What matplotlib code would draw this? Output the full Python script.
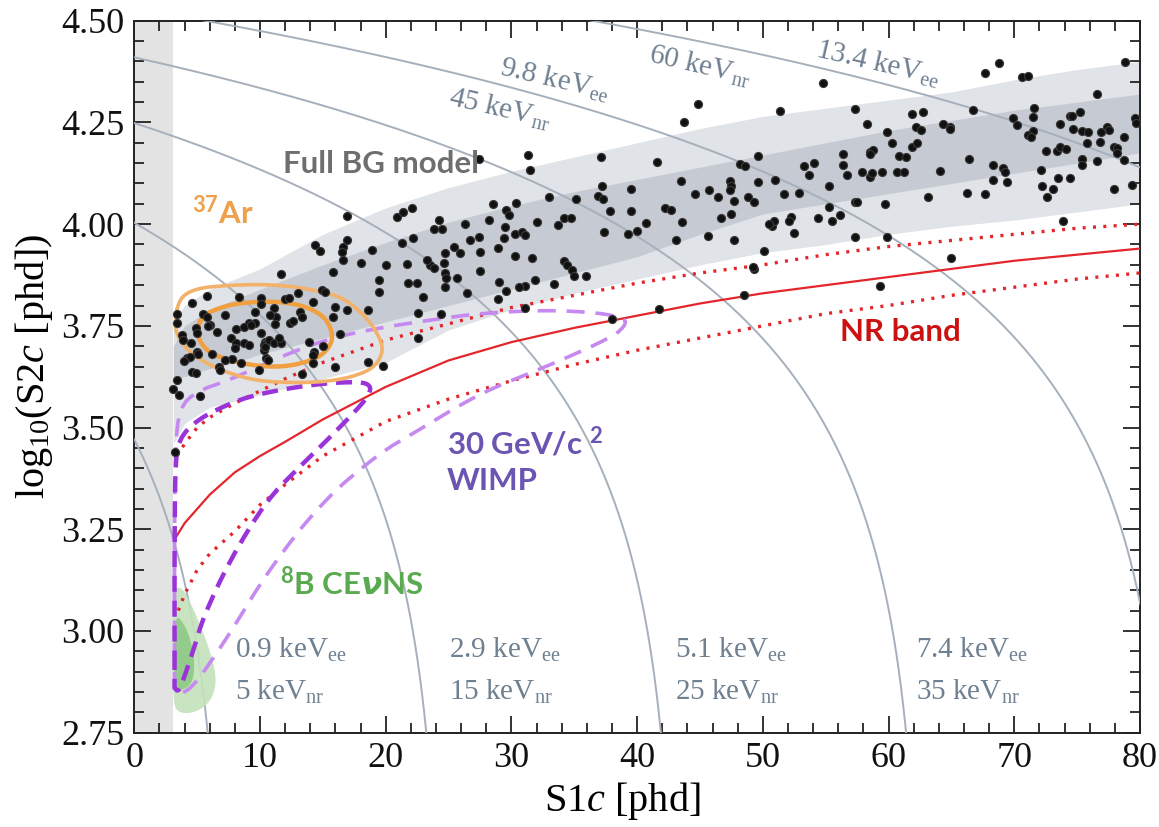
import numpy as np
import matplotlib
matplotlib.use("Agg")
import matplotlib.pyplot as plt
from matplotlib.ticker import MultipleLocator, FormatStrFormatter

plt.rcParams['font.family'] = ['Liberation Serif', 'DejaVu Serif']
plt.rcParams['mathtext.fontset'] = 'custom'
plt.rcParams['mathtext.rm'] = 'Liberation Serif'
plt.rcParams['mathtext.it'] = 'Liberation Serif:italic'
plt.rcParams['mathtext.bf'] = 'Lato:bold'
plt.rcParams['mathtext.sf'] = 'DejaVu Sans:italic:bold'

# ---------------- data ----------------
# energy contours (keV_ee) and detector gains used to draw them
contour_E_ee = [0.85, 2.9, 5.1, 7.4, 9.77, 13.4]
W_keV = 0.0137
g1 = 0.1162
g2 = 47.6

# Full background model bands
band_x   = [3.1, 4, 6, 8, 10, 15, 20, 25, 30, 35, 40, 45, 50, 55, 60, 65, 70, 75, 80]
outer_hi = [3.76, 3.80, 3.84, 3.865, 3.89, 3.975, 4.04, 4.09, 4.13, 4.165, 4.20, 4.235, 4.265, 4.285, 4.305, 4.325, 4.355, 4.38, 4.40]
outer_lo = [3.46, 3.51, 3.55, 3.565, 3.58, 3.62, 3.66, 3.74, 3.79, 3.83, 3.865, 3.90, 3.93, 3.95, 3.975, 3.995, 4.01, 4.03, 4.05]
inner_hi = [3.70, 3.75, 3.79, 3.815, 3.84, 3.90, 3.955, 4.005, 4.045, 4.08, 4.11, 4.14, 4.17, 4.20, 4.23, 4.255, 4.28, 4.30, 4.32]
inner_lo = [3.62, 3.625, 3.645, 3.66, 3.68, 3.72, 3.76, 3.80, 3.84, 3.88, 3.92, 3.975, 4.025, 4.05, 4.075, 4.10, 4.125, 4.15, 4.175]

# NR band (median and 10/90 %)
nr_x   = [3.3, 4, 5, 6, 8, 10, 12, 15, 20, 25, 30, 35, 40, 45, 50, 55, 60, 65, 70, 75, 80]
nr_med = [3.23, 3.265, 3.30, 3.335, 3.39, 3.43, 3.465, 3.52, 3.60, 3.665, 3.71, 3.745, 3.775, 3.805, 3.83, 3.85, 3.87, 3.89, 3.91, 3.925, 3.94]
nr_up_x = [3.4, 4, 5, 6, 8, 10, 12, 15, 20, 25, 30, 35, 40, 45, 50, 55, 60, 65, 70, 75, 80]
nr_up   = [3.43, 3.46, 3.50, 3.525, 3.56, 3.59, 3.62, 3.66, 3.715, 3.755, 3.795, 3.825, 3.855, 3.88, 3.90, 3.925, 3.945, 3.96, 3.975, 3.99, 4.0]
nr_lo_x = [3.5, 4, 5, 6, 8, 10, 12, 15, 20, 25, 30, 35, 40, 45, 50, 55, 60, 65, 70, 75, 80]
nr_lo   = [3.05, 3.09, 3.15, 3.19, 3.245, 3.31, 3.36, 3.43, 3.515, 3.57, 3.615, 3.655, 3.69, 3.72, 3.75, 3.78, 3.80, 3.825, 3.845, 3.865, 3.88]

# 30 GeV WIMP contours
wimp_in_x = [3.2, 3.2, 3.2, 3.25, 3.5, 5.0, 8.0, 10.3, 13.0, 15.6, 18.0, 18.7, 18.8, 18.2, 15.6, 12.9, 10.5, 7.6, 5.5, 4.7, 3.9, 3.5, 3.2]
wimp_in_y = [2.86, 3.0, 3.2, 3.40, 3.47, 3.52, 3.565, 3.585, 3.60, 3.61, 3.612, 3.605, 3.59, 3.56, 3.477, 3.396, 3.32, 3.174, 3.035, 2.953, 2.88, 2.85, 2.86]
wimp_out_x = [3.2, 3.2, 3.25, 3.6, 5.0, 7.6, 11.6, 15.6, 19.5, 23.5, 27.5, 32.8, 37.0, 38.8, 39.2, 38.1, 32.8, 27.5, 22.2, 19.5, 15.0, 10.8, 7.6, 5.8, 5.0, 4.3, 3.6, 3.2]
wimp_out_y = [2.85, 3.2, 3.45, 3.55, 3.59, 3.617, 3.674, 3.72, 3.745, 3.764, 3.781, 3.789, 3.782, 3.77, 3.756, 3.723, 3.65, 3.585, 3.486, 3.437, 3.32, 3.155, 2.994, 2.912, 2.878, 2.855, 2.845, 2.85]

# 37Ar contours
ar_out_x = [3.24, 3.6, 5.0, 7.6, 10.3, 12.9, 15.5, 16.9, 18.5, 19.5, 19.8, 19.3, 18.2, 16.0, 12.9, 8.9, 5.0, 3.37]
ar_out_y = [3.764, 3.82, 3.843, 3.85, 3.852, 3.846, 3.83, 3.813, 3.77, 3.723, 3.69, 3.655, 3.633, 3.615, 3.609, 3.617, 3.666, 3.723]
ar_in_x = [5.0, 5.5, 6.3, 8.0, 10.3, 12.0, 13.7, 15.0, 15.6, 15.8, 15.2, 14.2, 12.5, 10.8, 9.0, 7.6, 6.2, 5.5, 5.1]
ar_in_y = [3.748, 3.775, 3.789, 3.805, 3.81, 3.808, 3.797, 3.775, 3.748, 3.715, 3.685, 3.666, 3.652, 3.649, 3.655, 3.666, 3.68, 3.699, 3.72]

# 8B CEvNS regions
b8_out_x = [3.1, 3.7, 4.4, 5.3, 6.0, 6.55, 6.3, 5.5, 4.4, 3.5, 3.1, 3.05]
b8_out_y = [3.10, 3.11, 3.075, 3.01, 2.953, 2.886, 2.84, 2.81, 2.797, 2.80, 2.82, 2.95]
b8_in_x = [3.3, 3.9, 4.4, 4.8, 4.7, 4.2, 3.6, 3.2, 3.15]
b8_in_y = [3.04, 3.02, 2.986, 2.93, 2.88, 2.86, 2.855, 2.87, 2.96]

# observed events
ev_s1 = [16.9, 20.9, 21.4, 22.1, 24.2, 24.5, 23.8, 26.3, 14.4, 14.8, 16.9, 16.6, 16.5, 16.6, 18.9, 15.8, 18.0, 20.0,
         11.7, 22.2, 21.3, 19.5, 19.5, 21.7, 22.5, 21.8, 23.5, 23.8, 23.3, 23.0, 24.6, 24.7, 24.8, 24.7, 24.7,
         25.4, 25.9, 26.5, 26.7, 27.4, 22.6, 24.4, 22.6, 18.6, 16.0, 16.9, 15.8, 16.4, 14.9, 15.2, 14.2, 13.0,
         12.0, 12.3, 18.6, 19.8, 25.7,
         3.42, 3.42, 4.57, 5.8, 3.77, 3.9, 4.5, 5.5, 5.8, 6.0, 5.9, 4.9, 4.96, 7.2, 6.6, 8.3, 10.1, 10.1, 9.6,
         11.1, 11.3, 10.8, 11.2, 13.2, 13.3, 12.4, 12.6, 9.1, 8.7, 8.1, 9.6, 9.3, 7.7, 8.1, 10.1, 10.4, 10.5,
         10.3, 10.7, 11.1, 11.7, 11.5, 8.7, 9.1, 8.0, 10.3, 10.4, 13.9, 15.0, 14.3, 14.2, 14.2, 10.5, 10.6,
         7.75, 7.2, 6.2, 6.7, 6.8, 4.96, 5.1, 4.2, 4.4, 3.95, 4.57, 4.9, 8.5, 9.9, 13.3, 16.0, 3.42, 3.58, 5.2,
         3.1, 3.24,
         44.8, 43.7, 51.4, 31.3, 31.5, 37.1, 41.6, 49.6, 48.2, 48.6, 53.3, 54.1, 53.7, 27.4, 33.0, 35.1, 37.2,
         36.9, 37.3, 39.5, 43.5, 44.6, 45.7, 46.4, 47.4, 47.5, 47.4, 47.7, 47.5, 49.6, 48.8, 49.3, 51.0, 51.7,
         52.9, 28.5, 29.6, 29.8, 30.4, 28.2, 29.5, 28.9, 29.4, 30.3, 30.8, 31.1, 32.0, 33.7, 34.2, 34.7, 30.3,
         31.6, 27.5, 27.5, 34.2, 34.4, 34.8, 35.0, 35.9, 31.9, 31.1, 30.6, 29.6, 29.0, 28.9, 33.4, 31.1, 37.4,
         37.8, 39.5, 39.3, 40.0, 40.7, 42.2, 42.7, 43.6, 43.1, 45.6, 47.7, 46.7, 50.1, 49.3, 49.2, 48.5, 41.7,
         38.0, 50.7, 50.9, 50.5, 52.2, 52.1, 52.5, 54.4,
         68.8, 67.7, 78.8, 70.6, 71.1, 54.8, 57.3, 76.6, 66.7, 71.6, 71.5, 71.5, 71.1, 71.3, 69.9, 70.2, 58.3,
         61.9, 62.7, 62.2, 62.6, 64.3, 64.9, 64.9, 59.9, 60.3, 61.9, 62.3, 58.5, 58.8, 58.5, 60.8, 61.4, 56.4,
         56.4, 56.7, 55.3, 57.9, 58.5, 58.7, 59.5, 60.7, 61.2, 64.1, 66.4, 68.3, 68.3, 69.1, 69.4, 69.3, 66.2,
         67.7, 63.1, 72.1, 72.2, 72.6, 73.1, 72.5, 73.4, 73.6, 74.1, 73.5, 74.4, 73.6, 74.4, 74.6, 75.2, 74.7,
         75.4, 75.9, 75.8, 76.9, 77.4, 77.5, 76.8, 75.4, 75.4, 76.6, 77.9, 78.2, 78.2, 78.7, 78.7, 79.6, 79.7,
         77.9, 79.4, 59.7, 57.3, 57.5, 57.3, 55.5, 56.1, 55.3, 59.9, 65.0, 59.3, 73.9]
ev_log_s2 = [4.02, 4.018, 4.03, 4.04, 4.01, 3.988, 3.988, 4.00, 3.949, 3.935, 3.96, 3.945, 3.932, 3.913, 3.936, 3.883, 3.904, 3.90,
             3.877, 3.967, 3.953, 3.863, 3.834, 3.901, 3.855, 3.855, 3.90, 3.891, 3.912, 3.822, 3.904, 3.879, 3.867, 3.846, 3.928,
             3.944, 3.93, 3.83, 3.96, 3.969, 3.781, 3.778, 3.72, 3.789, 3.797, 3.789, 3.772, 3.73, 3.838, 3.834, 3.809, 3.831,
             3.817, 3.818, 3.66, 3.651, 3.868,
             3.78, 3.756, 3.807, 3.823, 3.727, 3.715, 3.708, 3.778, 3.772, 3.752, 3.75, 3.744, 3.733, 3.776, 3.735, 3.822, 3.818, 3.804, 3.785,
             3.793, 3.772, 3.777, 3.755, 3.783, 3.772, 3.756, 3.762, 3.756, 3.748, 3.742, 3.756, 3.752, 3.719, 3.707, 3.732, 3.711, 3.708,
             3.703, 3.715, 3.708, 3.707, 3.719, 3.708, 3.703, 3.695, 3.69, 3.697, 3.711, 3.70, 3.686, 3.678, 3.658, 3.67, 3.666,
             3.668, 3.666, 3.68, 3.649, 3.641, 3.686, 3.68, 3.67, 3.674, 3.664, 3.637, 3.633, 3.658, 3.641, 3.631, 3.649, 3.617, 3.58, 3.578,
             3.594, 3.44,
             4.295, 4.252, 4.278, 4.17, 4.132, 4.166, 4.152, 4.167, 4.147, 4.144, 4.142, 4.151, 4.121, 4.16, 4.066, 4.061, 4.094,
             4.069, 4.063, 4.086, 4.106, 4.073, 4.083, 4.067, 4.106, 4.094, 4.083, 4.058, 4.025, 4.103, 4.067, 4.055, 4.108, 4.073,
             4.076, 4.049, 4.036, 4.023, 4.051, 4.01, 3.994, 3.941, 3.967, 3.975, 3.981, 3.974, 4.006, 3.998, 4.014, 4.016, 3.922,
             3.917, 3.932, 3.885, 3.91, 3.90, 3.887, 3.873, 3.873, 3.863, 3.848, 3.846, 3.836, 3.858, 3.816, 3.853, 3.793, 3.98,
             4.032, 4.032, 3.977, 3.983, 4.004, 4.039, 4.035, 4.006, 3.961, 3.971, 3.961, 4.014, 3.934, 3.889, 3.895, 3.827, 3.791,
             3.766, 3.995, 4.008, 4.0, 4.018, 4.008, 3.979, 4.014,
             4.395, 4.371, 4.398, 4.361, 4.364, 4.348, 4.282, 4.319, 4.28, 4.286, 4.264, 4.23, 4.219, 4.214, 4.26, 4.244, 4.245,
             4.272, 4.276, 4.239, 4.231, 4.246, 4.239, 4.233, 4.226, 4.199, 4.19, 4.199, 4.178, 4.182, 4.172, 4.168, 4.166, 4.172,
             4.145, 4.122, 4.094, 4.129, 4.117, 4.125, 4.129, 4.129, 4.129, 4.131, 4.159, 4.145, 4.108, 4.137, 4.104, 4.127, 4.077,
             4.074, 4.067, 4.133, 4.094, 4.067, 4.087, 4.18, 4.18, 4.19, 4.185, 4.113, 4.113, 4.246, 4.266, 4.266, 4.275, 4.235,
             4.229, 4.227, 4.199, 4.227, 4.239, 4.231, 4.203, 4.159, 4.145, 4.155, 4.19, 4.186, 4.176, 4.158, 4.215, 4.26, 4.249,
             4.086, 4.096, 4.049, 4.055, 4.054, 3.969, 4.008, 4.022, 4.043, 3.969, 3.917, 3.849, 4.008]

x_ticks = [0, 10, 20, 30, 40, 50, 60, 70, 80]
y_ticks = [2.75, 3.00, 3.25, 3.50, 3.75, 4.00, 4.25, 4.50]

ee_labels = ["0.9", "2.9", "5.1", "7.4"]
nr_labels = ["5", "15", "25", "35"]
ee_label_x = [8.0, 25.0, 43.0, 62.2]


def chaikin(xs, ys, n=3):
    p = np.column_stack([xs, ys]).astype(float)
    for _ in range(n):
        q = np.roll(p, -1, axis=0)
        a = 0.75 * p + 0.25 * q
        b = 0.25 * p + 0.75 * q
        p = np.empty((2 * len(a), 2))
        p[0::2] = a
        p[1::2] = b
    p = np.vstack([p, p[:1]])
    return p[:, 0], p[:, 1]


# ---------------- figure ----------------
fig = plt.figure(figsize=(11.59, 8.27), dpi=100)
ax = fig.add_axes([0.1159, 0.1141, 0.8677, 0.8608])
ax.set_xlim(0, 80)
ax.set_ylim(2.75, 4.50)

# threshold strip
ax.axvspan(0, 3.05, color='#e3e3e3', lw=0, zorder=0)

# BG bands
ax.fill_between(band_x, outer_lo, outer_hi, color='#e0e3e7', lw=0, zorder=1)
ax.fill_between(band_x, inner_lo, inner_hi, color='#c6cbd3', lw=0, zorder=2)

# energy contours
for E in contour_E_ee:
    s1max = E / W_keV * g1
    s1 = s1max * (1 - np.geomspace(1, 1e-6, 1500))
    s2 = g2 * (E / W_keV - s1 / g1)
    ax.plot(s1, np.log10(s2), color='#a6b0bb', lw=1.4, zorder=3)

# 8B CEvNS
gx, gy = chaikin(b8_out_x, b8_out_y)
ax.fill(gx, gy, color='#c3e2bb', alpha=0.9, lw=0, zorder=4)
gx, gy = chaikin(b8_in_x, b8_in_y)
ax.fill(gx, gy, color='#8dc985', alpha=0.9, lw=0, zorder=4)

# NR band
ax.plot(nr_x, nr_med, color='#e3262b', lw=1.6, zorder=5)
ax.plot(nr_up_x, nr_up, color='#e3262b', lw=2.4, ls=(0, (0.9, 2.2)), zorder=5)
ax.plot(nr_lo_x, nr_lo, color='#e3262b', lw=2.4, ls=(0, (0.9, 2.2)), zorder=5)

# WIMP
px_, py_ = chaikin(wimp_out_x, wimp_out_y, 2)
ax.plot(px_, py_, color='#c589f0', lw=2.6, ls=(0, (5.0, 3.0)), zorder=6)
px_, py_ = chaikin(wimp_in_x, wimp_in_y, 2)
ax.plot(px_, py_, color='#9a34d8', lw=3.2, ls=(0, (3.6, 2.0)), zorder=6)

# 37Ar
ox, oy = chaikin(ar_out_x, ar_out_y)
ax.plot(ox, oy, color='#f2b26a', lw=2.6, zorder=6)
ox, oy = chaikin(ar_in_x, ar_in_y)
ax.plot(ox, oy, color='#f0a040', lw=3.2, zorder=6)

# events
ax.scatter(ev_s1, ev_log_s2, s=34, c='#111111', edgecolors='#3a3a3a', linewidths=0.8, zorder=7)

# ---------------- labels ----------------
lab_col = '#6f8091'
for xe, ee, nr in zip(ee_label_x, ee_labels, nr_labels):
    ax.text(xe, 2.953, ee + r" keV$_\mathregular{ee}$", color=lab_col, fontsize=21, ha='left', va='center', zorder=8)
    ax.text(xe, 2.850, nr + r" keV$_\mathregular{nr}$", color=lab_col, fontsize=21, ha='left', va='center', zorder=8)

rot_labels = [(33.4, 4.355, r"9.8 keV$_\mathregular{ee}$"),
              (29.1, 4.284, r"45 keV$_\mathregular{nr}$"),
              (45.0, 4.388, r"60 keV$_\mathregular{nr}$"),
              (59.1, 4.394, r"13.4 keV$_\mathregular{ee}$")]
for xr, yr, t in rot_labels:
    ax.text(xr, yr, t, color=lab_col, fontsize=21, rotation=-13, rotation_mode='anchor',
            ha='center', va='center', zorder=8)

big = 22.5
ax.text(11.85, 4.147, "Full BG model", family='Lato', weight='bold', fontsize=big,
        color='#6e6e6e', ha='left', va='center', zorder=8)
ax.text(4.57, 4.032, r"$\mathbf{^{37}}$Ar", family='Lato', weight='bold', fontsize=big,
        color='#eea04a', ha='left', va='center', zorder=8)
ax.text(56.15, 3.735, "NR band", family='Lato', weight='bold', fontsize=big,
        color='#cc1111', ha='left', va='center', zorder=8)
ax.text(24.86, 3.465, r"30 GeV/c $\mathbf{^{2}}$", family='Lato', weight='bold', fontsize=big,
        color='#6b55b2', ha='left', va='center', zorder=8)
ax.text(24.86, 3.368, "WIMP", family='Lato', weight='bold', fontsize=big,
        color='#6b55b2', ha='left', va='center', zorder=8)
ax.text(11.6, 3.119, r"$\mathbf{^{8}}$B CE$\mathsf{\nu}$NS", family='Lato', weight='bold', fontsize=big,
        color='#5aab4f', ha='left', va='center', zorder=8)

# axes styling
ax.set_xticks(x_ticks)
ax.set_yticks(y_ticks)
ax.xaxis.set_minor_locator(MultipleLocator(2))
ax.yaxis.set_minor_locator(MultipleLocator(0.05))
ax.yaxis.set_major_formatter(FormatStrFormatter('%.2f'))
ax.tick_params(which='both', direction='in', top=True, right=True, width=1.2, colors='#111111',
               labelsize=26)
ax.tick_params(which='major', length=12, pad=7)
ax.tick_params(which='minor', length=7)
for s in ax.spines.values():
    s.set_linewidth(1.4)
    s.set_color('#222222')

ax.set_xlabel(r"S1$c$ [phd]", fontsize=29)
ax.set_ylabel(r"log$_\mathregular{10}$(S2$c$ [phd])", fontsize=29)
ax.xaxis.set_label_coords(0.485, -0.066)
ax.yaxis.set_label_coords(-0.079, 0.515)

fig.savefig("out.png", dpi=100)
